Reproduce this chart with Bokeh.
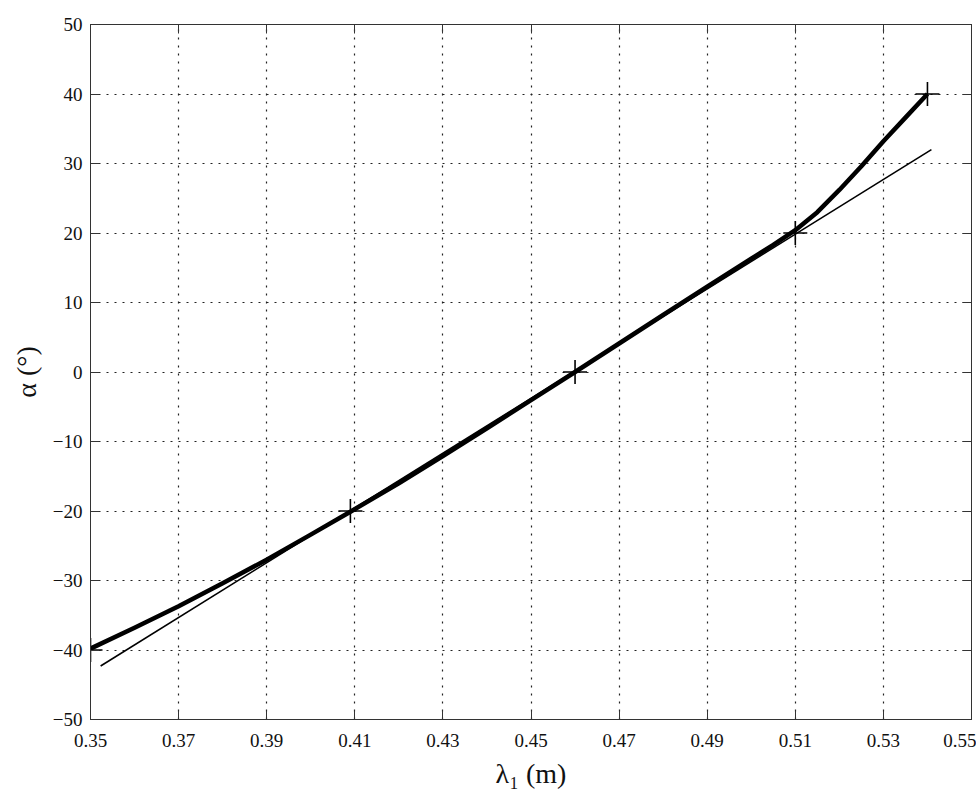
from bokeh.plotting import figure
from bokeh.models import LinearAxis, FixedTicker, CustomJSTickFormatter, Range1d
from bokeh.embed import file_html
from bokeh.resources import INLINE

# thick curve
curve_x = [0.35, 0.36, 0.37, 0.38, 0.39, 0.40, 0.409, 0.42, 0.43, 0.44, 0.45, 0.46,
           0.47, 0.48, 0.49, 0.50, 0.505, 0.51, 0.515, 0.52, 0.525, 0.53, 0.535, 0.54]
curve_y = [-39.8, -36.8, -33.7, -30.4, -27.0, -23.4, -20.1, -16.0, -12.1, -8.1, -4.05, 0.0,
           4.1, 8.2, 12.3, 16.3, 18.3, 20.4, 23.0, 26.2, 29.6, 33.2, 36.6, 40.0]

# marked points
mark_x = [0.35, 0.409, 0.46, 0.51, 0.54]
mark_y = [-40, -20, 0, 20, 40]

# thin straight (tangent) line
tan_x = [0.3523, 0.5409]
tan_y = [-42.3, 32.0]

x_ticks = [0.35, 0.37, 0.39, 0.41, 0.43, 0.45, 0.47, 0.49, 0.51, 0.53, 0.55]
x_tick_labels = ["0.35", "0.37", "0.39", "0.41", "0.43", "0.45", "0.47", "0.49", "0.51", "0.53", "0.55"]
y_ticks = [-50, -40, -30, -20, -10, 0, 10, 20, 30, 40, 50]
y_tick_labels = ["\u221250", "\u221240", "\u221230", "\u221220", "\u221210", "0", "10", "20", "30", "40", "50"]

FONT = "Liberation Serif"

p = figure(width=976, height=793, output_backend="svg", toolbar_location=None,
           x_range=Range1d(0.35, 0.55), y_range=Range1d(-50, 50),
           min_border_left=90, min_border_right=5, min_border_top=24, min_border_bottom=74)
p.background_fill_color = "white"
p.border_fill_color = "white"
p.outline_line_color = "#333333"
p.outline_line_width = 1

for ax, ticks, labels in ((p.xaxis[0], x_ticks, x_tick_labels), (p.yaxis[0], y_ticks, y_tick_labels)):
    ax.ticker = FixedTicker(ticks=ticks)
    ax.major_label_overrides = {t: l for t, l in zip(ticks, labels)}
    ax.major_label_text_font = FONT
    ax.major_label_text_font_size = "19px"
    ax.major_label_text_color = "#111111"
    ax.major_tick_in = 9
    ax.major_tick_out = 0
    ax.minor_tick_line_color = None
    ax.axis_line_color = "#333333"
    ax.major_tick_line_color = "#333333"
    ax.axis_label_text_font = FONT
    ax.axis_label_text_font_size = "28px"
    ax.axis_label_text_font_style = "normal"
    ax.axis_label_text_color = "#111111"

p.xaxis.axis_label = "\u03bb\u2081 (m)"
p.yaxis.axis_label = "\u03b1 (\u00b0)"
p.xaxis.major_label_standoff = 14
p.xaxis.axis_label_standoff = 8
p.yaxis.major_label_standoff = 8
p.yaxis.axis_label_standoff = 8

# mirrored ticks on top and right
for loc, ticks in (("above", x_ticks), ("right", y_ticks)):
    ax = LinearAxis(ticker=FixedTicker(ticks=ticks),
                    formatter=CustomJSTickFormatter(code="return ''"))
    ax.major_tick_in = 9
    ax.major_tick_out = 0
    ax.minor_tick_line_color = None
    ax.major_label_standoff = 0
    ax.axis_line_color = "#333333"
    ax.major_tick_line_color = "#333333"
    p.add_layout(ax, loc)

for g in (p.xgrid[0], p.ygrid[0]):
    g.grid_line_color = "#222222"
    g.grid_line_dash = "2 6"
    g.grid_line_width = 1.2
p.xgrid.ticker = FixedTicker(ticks=x_ticks)
p.ygrid.ticker = FixedTicker(ticks=y_ticks)

p.line(tan_x, tan_y, line_color="black", line_width=1.6)
p.line(curve_x, curve_y, line_color="black", line_width=4.5, line_join="round")
p.scatter(mark_x, mark_y, marker="cross", size=24, line_color="black", line_width=1.6)

open("out.html", "w").write(file_html(p, INLINE))
